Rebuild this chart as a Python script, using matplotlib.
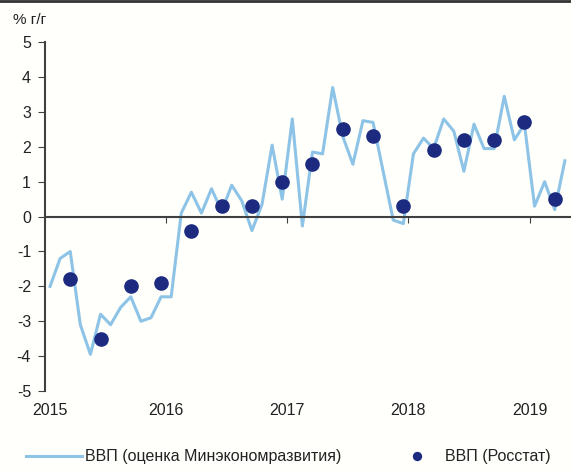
import numpy as np
import matplotlib.pyplot as plt
from matplotlib.lines import Line2D
from matplotlib import transforms

plt.rcParams['font.family'] = ['Liberation Sans', 'DejaVu Sans']
plt.rcParams['axes.unicode_minus'] = False

# помесячная оценка МЭР, янв 2015 - апр 2019
gdp_monthly = [-2.0, -1.2, -1.0, -3.1, -3.95, -2.8, -3.1, -2.6, -2.3, -3.0, -2.9, -2.3,
               -2.3, 0.1, 0.7, 0.1, 0.8, 0.15, 0.9, 0.45, -0.4, 0.35, 2.05, 0.5,
               2.8, -0.27, 1.85, 1.8, 3.7, 2.3, 1.5, 2.75, 2.7, 1.3, -0.1, -0.2,
               1.8, 2.25, 1.95, 2.8, 2.45, 1.3, 2.65, 1.95, 1.95, 3.45, 2.2, 2.65,
               0.3, 1.0, 0.2, 1.6]
# квартальные данные Росстата (конец квартала)
gdp_quarterly = [-1.8, -3.5, -2.0, -1.9, -0.4, 0.3, 0.3, 1.0, 1.5, 2.5, 2.3, 0.3,
                 1.9, 2.2, 2.2, 2.7, 0.5]
years = ['2015', '2016', '2017', '2018', '2019']

m = np.arange(len(gdp_monthly))
q = np.arange(len(gdp_quarterly)) * 3 + 2

fig = plt.figure(figsize=(5.71, 4.72), dpi=100, facecolor='#fffffb')
ax = fig.add_axes([0.0788, 0.1716, 0.921, 0.739])
ax.set_facecolor('#fffffb')

line, = ax.plot(m, gdp_monthly, color='#8dc3e6', lw=2.2)
dots, = ax.plot(q, gdp_quarterly, 'o', color='#1c2a80', ms=9.5, ls='none')

ax.set_xlim(-0.5, 51.6)
ax.set_ylim(-5, 5)
ax.set_yticks(range(-5, 6))
ax.spines['top'].set_visible(False)
ax.spines['right'].set_visible(False)
ax.spines['bottom'].set_position(('data', 0))
for s in ['left', 'bottom']:
    ax.spines[s].set_color('#404040')
    ax.spines[s].set_linewidth(1.5)
ax.set_xticks([11.5, 23.5, 35.5, 47.5])
ax.set_xticklabels([])
ax.tick_params(axis='x', direction='out', length=4, color='#404040')
ax.tick_params(axis='y', direction='out', length=5, color='#404040', labelsize=11.5, pad=5,
               labelcolor='#222222')

# подписи лет под осью (ось x проходит через ноль)
tr = transforms.blended_transform_factory(ax.transData, ax.transAxes)
for pos, y in zip([0.0, 11.5, 23.5, 35.5, 47.5], years):
    ax.text(pos, -0.057, y, transform=tr, ha='center', va='center', fontsize=11.5, color='#222222')

fig.text(0.023, 0.958, '% г/г', fontsize=11, ha='left', va='center', color='#222222')

leg1 = fig.legend([line], ['ВВП (оценка Минэкономразвития)'], loc='center left',
                  bbox_to_anchor=(0.0455, 0.032), frameon=False, fontsize=11.5,
                  handlelength=3.5, handletextpad=0.2, borderpad=0, borderaxespad=0,
                  labelcolor='#222222')
leg2 = fig.legend([dots], ['ВВП (Росстат)'], loc='center left',
                  bbox_to_anchor=(0.716, 0.032), frameon=False, fontsize=11.5,
                  handlelength=1.0, handletextpad=1.25, borderpad=0, borderaxespad=0,
                  numpoints=1, markerscale=0.6, labelcolor='#222222')

fig.add_artist(Line2D([0, 1], [0.997, 0.997], color='#333333', lw=2, transform=fig.transFigure))

plt.savefig('out.png', dpi=100, facecolor=fig.get_facecolor())
